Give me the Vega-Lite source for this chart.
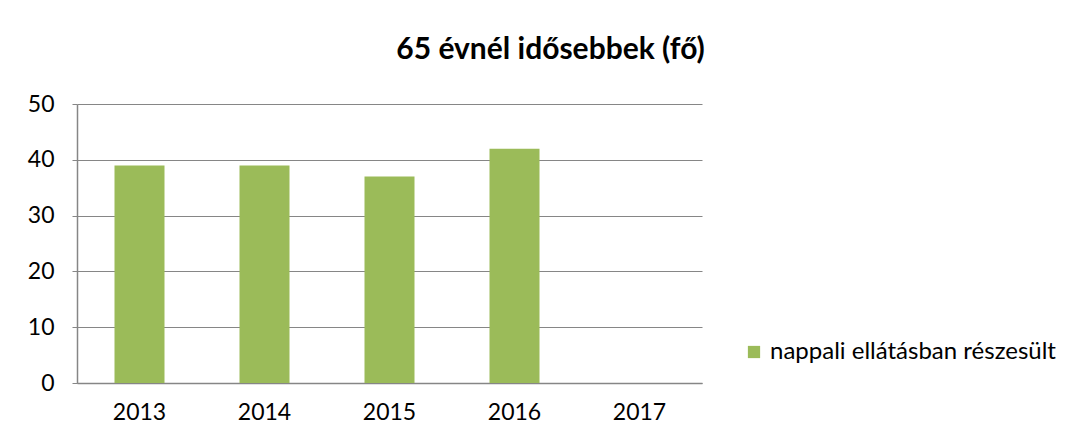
{
  "$schema": "https://vega.github.io/schema/vega-lite/v6.json",
  "width": 625,
  "height": 279,
  "autosize": "none",
  "padding": {"left": 77, "top": 104, "right": 381, "bottom": 60},
  "background": "white",
  "title": {"text": "65 évnél idősebbek (fő)", "anchor": "middle", "dx": 161, "offset": 28, "font": "Lato", "fontSize": 30, "fontWeight": "bold", "color": "#000000"},
  "data": {"values": [
    {"ev": "2013", "fo": 39, "sorozat": "nappali ellátásban részesült"},
    {"ev": "2014", "fo": 39, "sorozat": "nappali ellátásban részesült"},
    {"ev": "2015", "fo": 37, "sorozat": "nappali ellátásban részesült"},
    {"ev": "2016", "fo": 42, "sorozat": "nappali ellátásban részesült"},
    {"ev": "2017", "fo": null, "sorozat": "nappali ellátásban részesült"}
  ]},
  "mark": {"type": "bar"},
  "encoding": {
    "x": {"field": "ev", "type": "nominal", "title": null,
      "scale": {"domain": ["2013", "2014", "2015", "2016", "2017"], "paddingInner": 0.6, "paddingOuter": 0.3},
      "axis": {"labelAngle": 0, "ticks": false, "labelPadding": 18, "labelFont": "Lato", "labelFontSize": 23, "labelColor": "#000000", "domainColor": "#868686", "domainWidth": 1.5}},
    "y": {"field": "fo", "type": "quantitative", "title": null,
      "scale": {"domain": [0, 50]},
      "axis": {"values": [0, 10, 20, 30, 40, 50], "tickColor": "#868686", "tickSize": 5, "labelPadding": 18, "labelFont": "Lato", "labelFontSize": 23, "labelColor": "#000000", "domainColor": "#868686", "domainWidth": 1.5, "gridColor": "#868686", "gridWidth": 1}},
    "color": {"field": "sorozat", "type": "nominal", "scale": {"range": ["#9BBB59"]},
      "legend": {"title": null, "orient": "none", "legendX": 665, "legendY": 236, "symbolType": "square", "symbolSize": 150, "symbolStrokeWidth": 0, "labelFont": "Lato", "labelFontSize": 24, "labelLimit": 400, "labelColor": "#000000", "labelOffset": 4}}
  },
  "config": {"view": {"stroke": null}}
}
